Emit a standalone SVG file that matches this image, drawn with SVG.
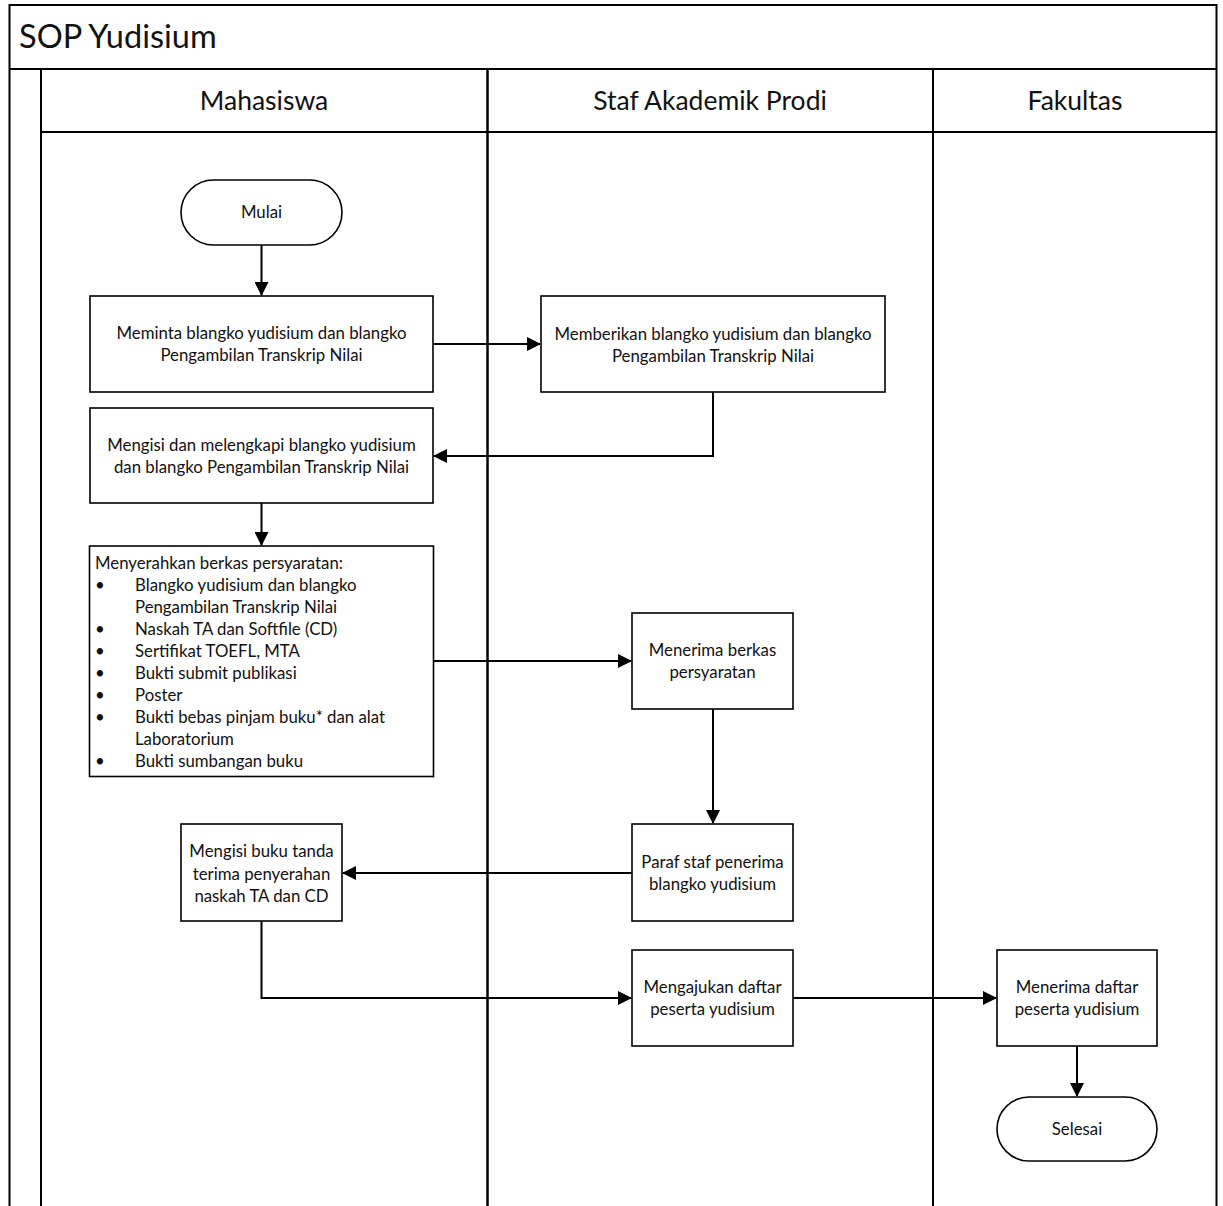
<svg xmlns="http://www.w3.org/2000/svg" width="1223" height="1206" viewBox="0 0 1223 1206">
<defs>
<marker id="arr" markerUnits="userSpaceOnUse" markerWidth="14" markerHeight="14" viewBox="0 0 14 14" refX="13" refY="7" orient="auto">
<path d="M0,0 L14,7 L0,14 Z" fill="#000"/>
</marker>
</defs>
<style>
.frame{fill:#fff;stroke:#000;stroke-width:2}
.lane{fill:none;stroke:#000;stroke-width:2}
.box{fill:#fff;stroke:#000;stroke-width:1.6}
.t{font-family:Lato,"Liberation Sans",sans-serif;font-size:16.8px;fill:#111;text-anchor:middle}
.tl{font-family:Lato,"Liberation Sans",sans-serif;font-size:16.8px;fill:#111}
.hd{font-family:Lato,"Liberation Sans",sans-serif;font-size:26.5px;fill:#111;text-anchor:middle}
.title{font-family:Lato,"Liberation Sans",sans-serif;font-size:32.5px;fill:#111}
.c{fill:none;stroke:#000;stroke-width:2;marker-end:url(#arr)}
</style>
<rect width="1223" height="1206" fill="#fff"/>
<g id="pool">
<rect class="frame" x="9.5" y="5" width="1207" height="1210"/>
<line class="lane" x1="9.5" y1="69" x2="1216.5" y2="69"/>
<text class="title" x="19" y="48">SOP Yudisium</text>
</g>
<g id="lane-mahasiswa">
<rect class="lane" x="41" y="69" width="446.5" height="1150"/>
<line class="lane" x1="41" y1="132" x2="487.5" y2="132"/>
<text class="hd" x="264" y="110">Mahasiswa</text>
</g>
<g id="lane-staf">
<rect class="lane" x="487.5" y="69" width="445.5" height="1150"/>
<line class="lane" x1="487.5" y1="132" x2="933" y2="132"/>
<text class="hd" x="710" y="110">Staf Akademik Prodi</text>
</g>
<g id="lane-fakultas">
<line class="lane" x1="933" y1="132" x2="1216.5" y2="132"/>
<text class="hd" x="1075" y="110">Fakultas</text>
</g>
<g id="connectors">
<path class="c" d="M261.5,245 V295"/>
<path class="c" d="M433,344 H540"/>
<path class="c" d="M713,392 V456 H434"/>
<path class="c" d="M261.5,503 V545"/>
<path class="c" d="M434,661 H631"/>
<path class="c" d="M713,709 V823"/>
<path class="c" d="M632,873 H343"/>
<path class="c" d="M261.5,921 V998 H631"/>
<path class="c" d="M793,998 H996"/>
<path class="c" d="M1077,1046 V1096"/>
</g>
<g id="mulai">
<rect class="box" x="181" y="180" width="161" height="65" rx="32.5"/>
<text class="t" x="261.5" y="218">Mulai</text>
</g>
<g id="meminta">
<rect class="box" x="90" y="296" width="343" height="96"/>
<text class="t" x="261.5" y="339">Meminta blangko yudisium dan blangko</text>
<text class="t" x="261.5" y="361">Pengambilan Transkrip Nilai</text>
</g>
<g id="memberikan">
<rect class="box" x="541" y="296" width="344" height="96"/>
<text class="t" x="713" y="340">Memberikan blangko yudisium dan blangko</text>
<text class="t" x="713" y="362">Pengambilan Transkrip Nilai</text>
</g>
<g id="mengisi">
<rect class="box" x="90" y="408" width="343" height="95"/>
<text class="t" x="261.5" y="451">Mengisi dan melengkapi blangko yudisium</text>
<text class="t" x="261.5" y="473">dan blangko Pengambilan Transkrip Nilai</text>
</g>
<g id="menyerahkan">
<rect class="box" x="89.5" y="546" width="344" height="230.5"/>
<text class="tl" x="95" y="569">Menyerahkan berkas persyaratan:</text>
<text class="tl" x="95" y="591">•</text><text class="tl" x="135" y="591">Blangko yudisium dan blangko</text>
<text class="tl" x="135" y="613">Pengambilan Transkrip Nilai</text>
<text class="tl" x="95" y="635">•</text><text class="tl" x="135" y="635">Naskah TA dan Softfile (CD)</text>
<text class="tl" x="95" y="657">•</text><text class="tl" x="135" y="657">Sertifikat TOEFL, MTA</text>
<text class="tl" x="95" y="679">•</text><text class="tl" x="135" y="679">Bukti submit publikasi</text>
<text class="tl" x="95" y="701">•</text><text class="tl" x="135" y="701">Poster</text>
<text class="tl" x="95" y="723">•</text><text class="tl" x="135" y="723">Bukti bebas pinjam buku* dan alat</text>
<text class="tl" x="135" y="745">Laboratorium</text>
<text class="tl" x="95" y="767">•</text><text class="tl" x="135" y="767">Bukti sumbangan buku</text>
</g>
<g id="menerima-berkas">
<rect class="box" x="632" y="613" width="161" height="96"/>
<text class="t" x="712.5" y="656">Menerima berkas</text>
<text class="t" x="712.5" y="678">persyaratan</text>
</g>
<g id="paraf">
<rect class="box" x="632" y="824" width="161" height="97"/>
<text class="t" x="712.5" y="868">Paraf staf penerima</text>
<text class="t" x="712.5" y="890">blangko yudisium</text>
</g>
<g id="mengisi-buku">
<rect class="box" x="181" y="824" width="161" height="97"/>
<text class="t" x="261.5" y="857">Mengisi buku tanda</text>
<text class="t" x="261.5" y="880">terima penyerahan</text>
<text class="t" x="261.5" y="902">naskah TA dan CD</text>
</g>
<g id="mengajukan">
<rect class="box" x="632" y="950" width="161" height="96"/>
<text class="t" x="712.5" y="993">Mengajukan daftar</text>
<text class="t" x="712.5" y="1015">peserta yudisium</text>
</g>
<g id="menerima-daftar">
<rect class="box" x="997" y="950" width="160" height="96"/>
<text class="t" x="1077" y="993">Menerima daftar</text>
<text class="t" x="1077" y="1015">peserta yudisium</text>
</g>
<g id="selesai">
<rect class="box" x="997" y="1097" width="160" height="64" rx="32"/>
<text class="t" x="1077" y="1135">Selesai</text>
</g>
</svg>
